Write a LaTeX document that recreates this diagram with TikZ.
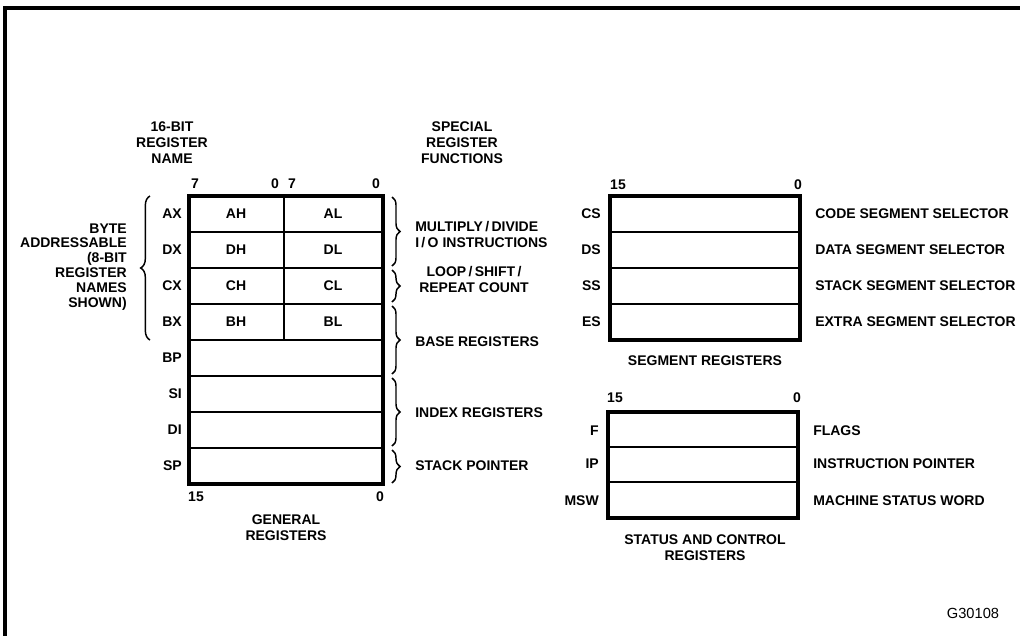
\documentclass[tikz,border=0pt]{standalone}
\usepackage{fontspec}
\setmainfont{Liberation Sans}
\usetikzlibrary{decorations.pathreplacing}
\begin{document}
\begin{tikzpicture}[x=0.75pt,y=-0.75pt,
  lbl/.style={font=\fontsize{10.5}{12}\selectfont\bfseries, inner sep=0pt},
  ttl/.style={lbl, align=center},
  rlbl/.style={lbl, anchor=east},
  flbl/.style={lbl, anchor=west},
  outer/.style={line width=3pt},
  inner/.style={line width=1.4pt},
  brc/.style={line width=1.1pt, decorate, decoration={brace, amplitude=6pt}},
  frame/.style={line width=2.3pt}]
\useasboundingbox (0,0) rectangle (1020,636);
% frame
\coordinate (fTL) at (5,8);
\coordinate (fTR) at (1020,8);
\coordinate (fBL) at (5,636);
\draw[frame] (fTR) -- (fTL) -- (fBL);

% ---------- general registers ----------
\foreach \y in {232,268,304,340,376,412,448} \draw[inner] (189,\y) -- (383,\y);
\draw[inner] (284,196) -- (284,340);
\draw[outer] (189,196) rectangle (383,484);

\node[lbl] (b7a) at (195,184) {7};
\node[lbl] (b0a) at (275,184) {0};
\node[lbl] (b7b) at (292,184) {7};
\node[lbl] (b0b) at (376,184) {0};
\node[lbl] (b15g) at (196,497) {15};
\node[lbl] (b0g) at (380,497) {0};

\node[rlbl] (ax) at (182,214) {AX};
\node[rlbl] (dx) at (182,250) {DX};
\node[rlbl] (cx) at (182,286) {CX};
\node[rlbl] (bx) at (182,322) {BX};
\node[rlbl] (bp) at (182,358) {BP};
\node[rlbl] (si) at (182,394) {SI};
\node[rlbl] (di) at (182,430) {DI};
\node[rlbl] (sp) at (182,466) {SP};

\node[lbl] (ah) at (236,214) {AH};
\node[lbl] (al) at (333,214) {AL};
\node[lbl] (dh) at (236,250) {DH};
\node[lbl] (dl) at (333,250) {DL};
\node[lbl] (ch) at (236,286) {CH};
\node[lbl] (cl) at (333,286) {CL};
\node[lbl] (bh) at (236,322) {BH};
\node[lbl] (bl) at (333,322) {BL};

\node[ttl] (t16) at (172,143) {16-BIT\\REGISTER\\NAME};
\node[ttl] (tspec) at (462,143) {SPECIAL\\REGISTER\\FUNCTIONS};
\node[ttl] (tgen) at (286,528) {GENERAL\\REGISTERS};

% left brace
\coordinate (lbB) at (150,340);
\coordinate (lbT) at (150,196);
\draw[brc, decoration={amplitude=7pt}] (lbB) -- (lbT);
\node[lbl, align=right, anchor=east, font=\fontsize{10.5}{11.2}\selectfont\bfseries] (byte) at (127,267) {BYTE\\ADDRESSABLE\\(8-BIT\\REGISTER\\NAMES\\SHOWN)};

% right braces
\coordinate (r1a) at (392,197); \coordinate (r1b) at (392,266);
\coordinate (r2a) at (392,270); \coordinate (r2b) at (392,302);
\coordinate (r3a) at (392,306); \coordinate (r3b) at (392,374);
\coordinate (r4a) at (392,378); \coordinate (r4b) at (392,446);
\coordinate (r5a) at (392,450); \coordinate (r5b) at (392,483);
\draw[brc] (r1a) -- (r1b);
\draw[brc] (r2a) -- (r2b);
\draw[brc] (r3a) -- (r3b);
\draw[brc] (r4a) -- (r4b);
\draw[brc] (r5a) -- (r5b);

\node[lbl, align=left, anchor=west] (fmul) at (415,235) {MULTIPLY\,/\,DIVIDE\\I\,/\,O INSTRUCTIONS};
\node[ttl] (floop) at (474,279) {LOOP\,/\,SHIFT\,/\\REPEAT COUNT};
\node[flbl] (fbase) at (415,342) {BASE REGISTERS};
\node[flbl] (findex) at (415,413) {INDEX REGISTERS};
\node[flbl] (fstack) at (415,466) {STACK POINTER};

% ---------- segment registers ----------
\foreach \y in {232,268,304} \draw[inner] (610,\y) -- (800,\y);
\draw[outer] (610,196) rectangle (800,340);
\node[lbl] (s15) at (618,185) {15};
\node[lbl] (s0) at (798,185) {0};
\node[rlbl] (cs) at (601,214) {CS};
\node[rlbl] (ds) at (601,250) {DS};
\node[rlbl] (ss) at (601,286) {SS};
\node[rlbl] (es) at (601,322) {ES};
\node[flbl] (fcs) at (815,214) {CODE SEGMENT SELECTOR};
\node[flbl] (fds) at (815,250) {DATA SEGMENT SELECTOR};
\node[flbl] (fss) at (815,286) {STACK SEGMENT SELECTOR};
\node[flbl] (fes) at (815,322) {EXTRA SEGMENT SELECTOR};
\node[lbl] (tseg) at (705,361) {SEGMENT REGISTERS};

% ---------- status and control ----------
\foreach \y in {447,482} \draw[inner] (608,\y) -- (798,\y);
\draw[outer] (608,412) rectangle (798,518);
\node[lbl] (c15) at (615,398) {15};
\node[lbl] (c0) at (797,398) {0};
\node[rlbl] (fl) at (599,431) {F};
\node[rlbl] (ip) at (599,464) {IP};
\node[rlbl] (msw) at (599,501) {MSW};
\node[flbl] (fflags) at (813,431) {FLAGS};
\node[flbl] (fip) at (813,464) {INSTRUCTION POINTER};
\node[flbl] (fmsw) at (813,501) {MACHINE STATUS WORD};
\node[ttl] (tstat) at (705,548) {STATUS AND CONTROL\\REGISTERS};

\node[font=\fontsize{11}{12}\selectfont, inner sep=0pt] (gid) at (973,613) {G30108};
\end{tikzpicture}
\end{document}
